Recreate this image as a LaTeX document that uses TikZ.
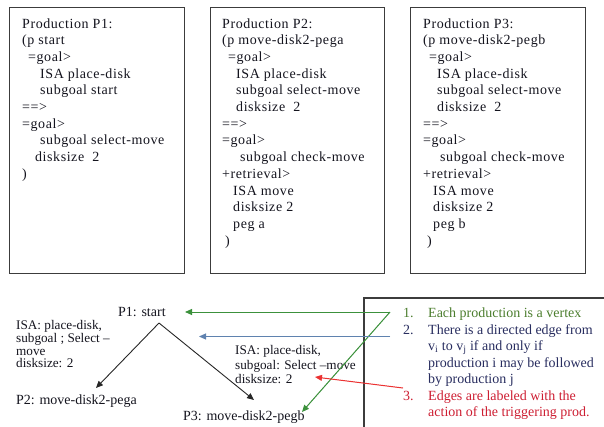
\documentclass[tikz,border=0pt]{standalone}
\usepackage{fontspec}
\setmainfont{Liberation Serif}
\newfontfamily\codefont{Liberation Serif}[LetterSpace=4]
\usetikzlibrary{arrows.meta}

\definecolor{frame}{RGB}{60,60,60}
\definecolor{codeink}{RGB}{20,20,30}
\definecolor{itemgreen}{RGB}{75,125,45}
\definecolor{itemblue}{RGB}{40,45,95}
\definecolor{itemred}{RGB}{205,30,50}
\definecolor{linkgreen}{RGB}{60,145,60}
\definecolor{linkblue}{RGB}{95,130,175}
\definecolor{linkred}{RGB}{235,50,50}

\begin{document}
\begin{tikzpicture}[x=1pt,y=-1pt,
  prodbox/.style={draw=frame, line width=1.3pt, inner sep=0pt, anchor=north west,
    minimum width=174.5pt, minimum height=266pt},
  codeline/.style={anchor=base west, inner sep=0pt, text=codeink,
    font=\codefont\fontsize{14}{16.7}\selectfont},
  graphtext/.style={anchor=base west, inner sep=0pt, text=codeink,
    font=\fontsize{14}{16}\selectfont},
  edgetext/.style={anchor=north west, inner sep=0pt, text=codeink, align=left,
    font=\fontsize{13.2}{#1}\selectfont,
    execute at begin node={\lineskiplimit=-20pt\relax}},
  itemtext/.style={anchor=base west, inner sep=0pt,
    font=\fontsize{14}{16.5}\selectfont},
  tip/.style={-{Triangle[length=7pt,width=6pt]}},
  succ/.style={tip, draw=black!85, line width=0.9pt},
  note/.style={tip, line width=1pt}
]
\useasboundingbox (0,0) rectangle (604,426);

% the three production boxes
\node[prodbox] (boxA) at (9,7) {};
\node[prodbox] (boxB) at (209.5,7) {};
\node[prodbox] (boxC) at (410,7) {};

% Production P1
\foreach \ind/\txt [count=\k] in {
  0/{Production P1:}, 0/{(p start}, 6/{=goal>}, 18/{ISA place-disk},
  18/{subgoal start}, 0/{==>}, 0/{=goal>}, 18/{subgoal select-move},
  13/{disksize\ \ 2}, 0/{)}}
  \node[codeline, name=codeA\k] at ({22+\ind},{28+16.7*(\k-1)}) {\txt};

% Production P2
\foreach \ind/\txt [count=\k] in {
  0/{Production P2:}, 0/{(p move-disk2-pega}, 6/{=goal>}, 14/{ISA place-disk},
  14/{subgoal select-move}, 14/{disksize\ \ 2}, 0/{==>}, 0/{=goal>},
  18/{subgoal check-move}, 0/{+retrieval>}, 11/{ISA move},
  11/{disksize 2}, 11/{peg a}, 3/{)}}
  \node[codeline, name=codeB\k] at ({222+\ind},{28+16.7*(\k-1)}) {\txt};

% Production P3
\foreach \ind/\txt [count=\k] in {
  0/{Production P3:}, 0/{(p move-disk2-pegb}, 6/{=goal>}, 14/{ISA place-disk},
  14/{subgoal select-move}, 14/{disksize\ \ 2}, 0/{==>}, 0/{=goal>},
  17/{subgoal check-move}, 0/{+retrieval>}, 10/{ISA move},
  10/{disksize 2}, 10/{peg b}, 4/{)}}
  \node[codeline, name=codeC\k] at ({423+\ind},{28+16.7*(\k-1)}) {\txt};

% production graph
\node[graphtext] (p1) at (118,316.5) {P1: start};
\node[graphtext] (p2) at (16,404.5) {P2: move-disk2-pega};
\node[graphtext] (p3) at (183,420.5) {P3: move-disk2-pegb};

\node[edgetext=12.6] (edgeA) at (16,320.5)
  {ISA: place-disk,\\ subgoal ; Select –\\ move\\ disksize: 2};
\node[edgetext=14.3] (edgeB) at (235,345.5)
  {ISA: place-disk,\\ subgoal: Select –move\\ disksize: 2};

\coordinate (fork) at (159,323);
\coordinate (toP2) at (96,388);
\coordinate (toP3) at (254,400);
\draw[succ] (fork) -- (toP2);
\draw[succ] (fork) -- (toP3);

% legend panel
\draw[draw=frame, line width=1.3pt] (364,430) -- (364,298) -- (608,298);

\node[itemtext, text=itemgreen] (n1) at (403,317.5) {1.};
\node[itemtext, text=itemgreen] (t1) at (428,317.5) {Each production is a vertex};
\node[itemtext, text=itemblue] (n2) at (403,334) {2.};
\foreach \txt [count=\k] in {{There is a directed edge from},
  {v\textsubscript{i} to v\textsubscript{j} if and only if},
  {production i may be followed}, {by production j}}
  \node[itemtext, text=itemblue, name=t2\k] at (428,{334+16.5*(\k-1)}) {\txt};
\node[itemtext, text=itemred] (n3) at (403,400) {3.};
\node[itemtext, text=itemred] (t31) at (428,400) {Edges are labeled with the};
\node[itemtext, text=itemred] (t32) at (428,416.5) {action of the triggering prod.};

% pointers from the legend into the graph
\coordinate (greenfork) at (390,312);
\coordinate (greentipA) at (185,312);
\coordinate (greentipB) at (302,412);
\draw[note, draw=linkgreen, fill=linkgreen] (greenfork) -- (greentipA);
\draw[note, draw=linkgreen, fill=linkgreen] (greenfork) -- (greentipB);

\coordinate (bluestart) at (390,336.5);
\coordinate (bluetip) at (199,336.5);
\draw[note, draw=linkblue, fill=linkblue] (bluestart) -- (bluetip);

\coordinate (redstart) at (403,388);
\coordinate (redtip) at (315,377);
\draw[note, draw=linkred, fill=linkred] (redstart) -- (redtip);
\end{tikzpicture}
\end{document}
